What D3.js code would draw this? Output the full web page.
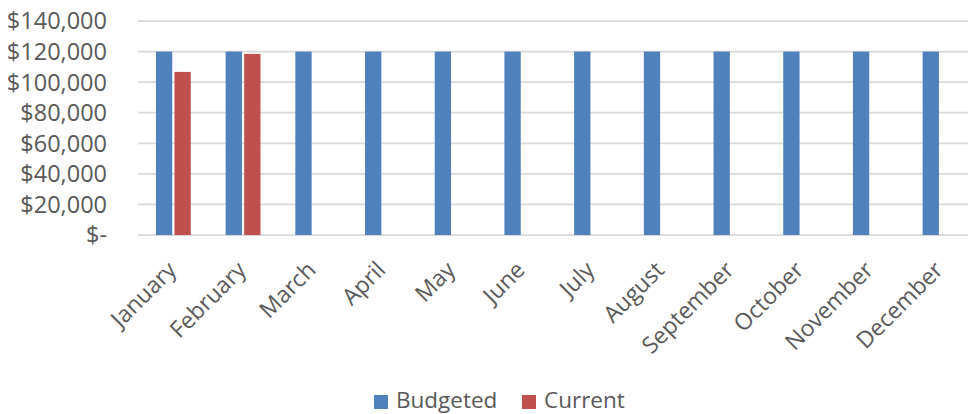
<!DOCTYPE html>
<html>
<head>
<meta charset="utf-8">
<script src="https://cdn.jsdelivr.net/npm/d3@7"></script>
<style>
  html, body { margin: 0; padding: 0; background: #fff; }
  svg { display: block; }
  text { font-family: "Open Sans", sans-serif; fill: #595959; }
</style>
</head>
<body>
<div id="chart"></div>
<script>
const months = ['January', 'February', 'March', 'April', 'May', 'June',
  'July', 'August', 'September', 'October', 'November', 'December']
const budgeted = [120000, 120000, 120000, 120000, 120000, 120000,
  120000, 120000, 120000, 120000, 120000, 120000]
const current = [106700, 118500, null, null, null, null,
  null, null, null, null, null, null]
const seriesNames = ['Budgeted', 'Current']
const seriesColors = ['#4f81bd', '#c0504d']
const yTicks = [0, 20000, 40000, 60000, 80000, 100000, 120000, 140000]

const width = 968, height = 414

const svg = d3.select('#chart')
  .append('svg')
  .attr('width', width)
  .attr('height', height)

const x = d3.scaleBand()
  .domain(months)
  .range([138.5, 974.9])
  .paddingInner(0.5)
  .paddingOuter(0.25)

const xSub = d3.scaleBand()
  .domain(seriesNames)
  .range([0, x.bandwidth()])
  .paddingInner(0.12)

const y = d3.scaleLinear()
  .domain([0, 140000])
  .range([235, 21])

// gridlines (the zero line doubles as the axis)
svg.append('g')
  .selectAll('line')
  .data(yTicks)
  .enter()
  .append('line')
  .attr('x1', 138)
  .attr('x2', width)
  .attr('y1', d => y(d))
  .attr('y2', d => y(d))
  .attr('stroke', '#d9d9d9')
  .attr('stroke-width', 1.75)

// y labels
const fmt = d => d === 0 ? '$-' : '$' + d3.format(',')(d)
svg.append('g')
  .selectAll('text')
  .data(yTicks)
  .enter()
  .append('text')
  .attr('x', 107)
  .attr('y', d => y(d))
  .attr('dy', '0.36em')
  .attr('text-anchor', 'end')
  .attr('font-size', '23.5px')
  .text(fmt)

// bars
const rows = months.map((m, i) => ({ m, vals: [budgeted[i], current[i]] }))
const groups = svg.append('g')
  .selectAll('g')
  .data(rows)
  .enter()
  .append('g')
  .attr('transform', d => `translate(${x(d.m)},0)`)

groups.selectAll('rect')
  .data(d => d.vals.map((v, j) => ({ v, s: seriesNames[j], c: seriesColors[j] })).filter(e => e.v != null))
  .enter()
  .append('rect')
  .attr('x', d => xSub(d.s))
  .attr('width', xSub.bandwidth())
  .attr('y', d => y(d.v))
  .attr('height', d => y(0) - y(d.v))
  .attr('fill', d => d.c)

// x labels
svg.append('g')
  .selectAll('text')
  .data(months)
  .enter()
  .append('text')
  .attr('transform', d => `translate(${x(d) + x.bandwidth() / 2 - 7},260) rotate(-45)`)
  .attr('text-anchor', 'end')
  .attr('dy', '0.7em')
  .attr('font-size', '23px')
  .text(d => d)

// legend
const legend = svg.append('g')
const legendX = [374, 522]
seriesNames.forEach((name, i) => {
  legend.append('rect')
    .attr('x', legendX[i])
    .attr('y', 395)
    .attr('width', 14)
    .attr('height', 14)
    .attr('fill', seriesColors[i])
  legend.append('text')
    .attr('x', legendX[i] + 22)
    .attr('y', 407.5)
    .attr('font-size', '22.5px')
    .text(name)
})
</script>
</body>
</html>
